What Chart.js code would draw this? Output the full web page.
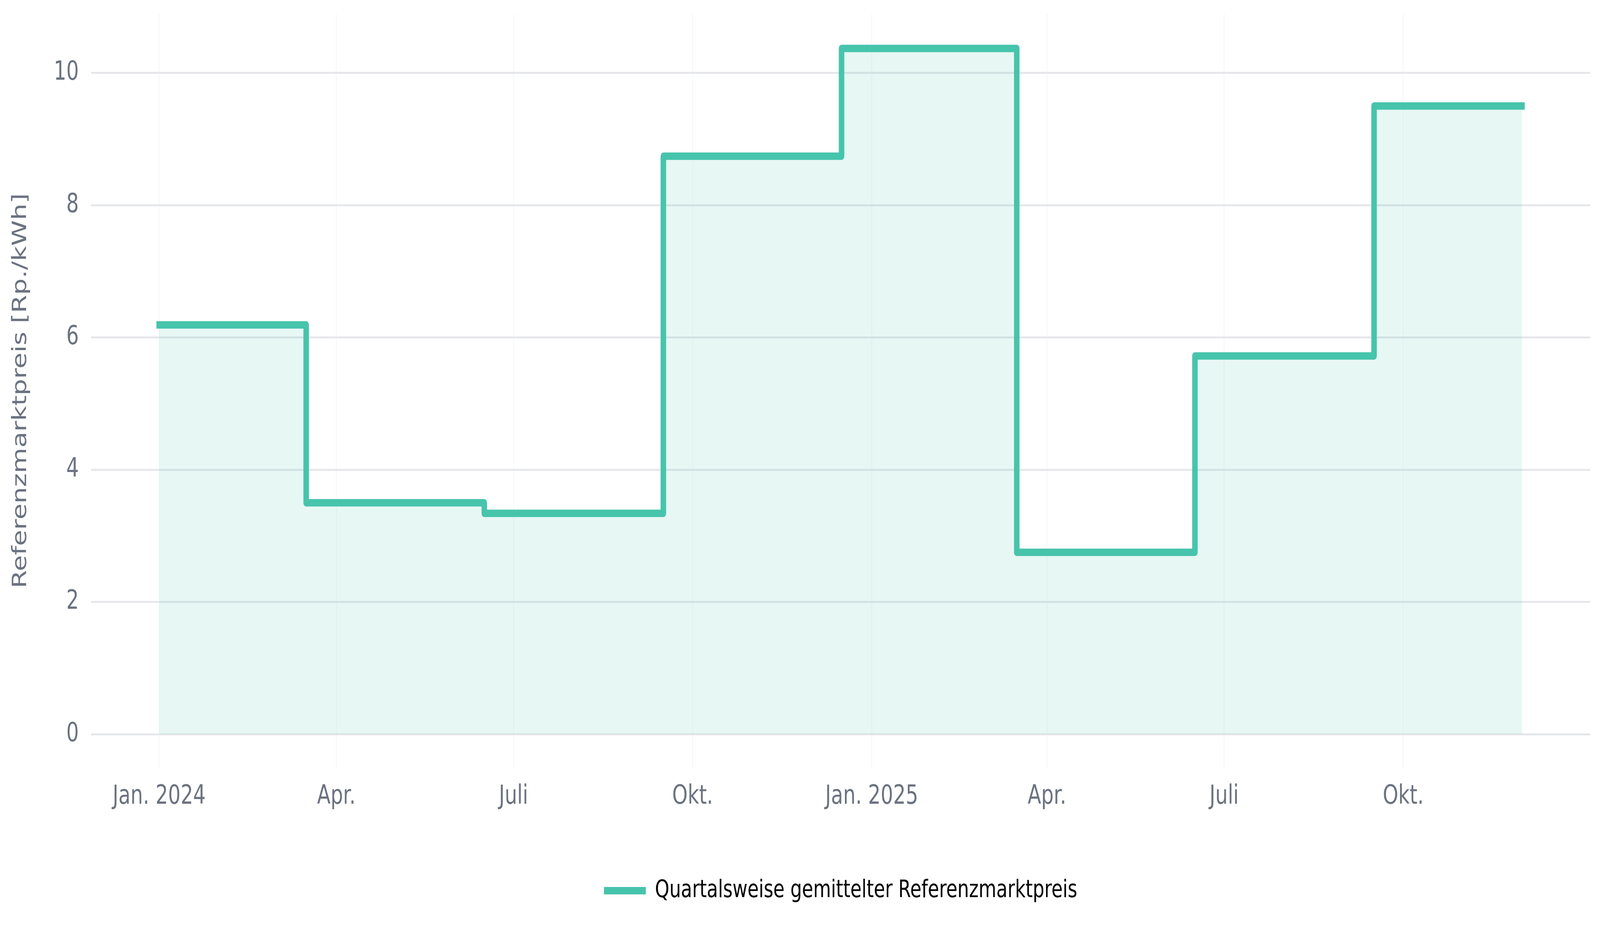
<!DOCTYPE html>
<html>
<head>
<meta charset="utf-8">
<script src="https://cdn.jsdelivr.net/npm/chart.js@4.4.1/dist/chart.umd.min.js"></script>
<style>
html,body{margin:0;padding:0;background:#ffffff;overflow:hidden;}
#c{display:block;}
</style>
</head>
<body>
<canvas id="c" width="5522" height="2375"></canvas>
<script>
// ---- data ----
const months = ['2024-01','2024-02','2024-03','2024-04','2024-05','2024-06','2024-07','2024-08','2024-09','2024-10','2024-11','2024-12',
                '2025-01','2025-02','2025-03','2025-04','2025-05','2025-06','2025-07','2025-08','2025-09','2025-10','2025-11','2025-12'];
const prices = [6.19,6.19,6.19, 3.50,3.50,3.50, 3.34,3.34,3.34, 8.74,8.74,8.74,
                10.37,10.37,10.37, 2.75,2.75,2.75, 5.72,5.72,5.72, 9.50,9.50,9.50];
const xTickDates = ['2024-01','2024-04','2024-07','2024-10','2025-01','2025-04','2025-07','2025-10'];
const xTickLabels = ['Jan. 2024','Apr.','Juli','Okt.','Jan. 2025','Apr.','Juli','Okt.'];
const yTicks = [0,2,4,6,8,10];
const seriesLabel = 'Quartalsweise gemittelter Referenzmarktpreis';
const yTitle = 'Referenzmarktpreis [Rp./kWh]';

// ---- canvas: drawn at 5522x2375, shown at the window's size ----
const canvas = document.getElementById('c');
canvas.style.width = (window.innerWidth || 5522) + 'px';
canvas.style.height = (window.innerHeight || 2375) + 'px';

function toDay(s){ const p = s.split('-'); return Date.UTC(+p[0], +p[1]-1, 1) / 86400000; }
const LINE = '#47c4ac';
const FILL = 'rgba(71,196,172,0.13)';
const FONT = 'DejaVu Sans';
const xMinPad = 35, xMaxPad = 35;

const points = months.map((m,i) => ({x: toDay(m), y: prices[i]}));

new Chart(canvas, {
  type: 'line',
  data: {
    datasets: [{
      label: seriesLabel,
      data: points,
      borderColor: LINE,
      backgroundColor: FILL,
      borderWidth: 19,
      fill: 'origin',
      stepped: 'middle',
      pointRadius: 0,
      pointHoverRadius: 0,
      borderCapStyle: 'square',
      borderJoinStyle: 'round'
    }]
  },
  options: {
    responsive: false,
    maintainAspectRatio: false,
    devicePixelRatio: 1,
    animation: false,
    events: [],
    layout: { padding: { left: 0, right: 34, top: 36, bottom: 54 } },
    scales: {
      x: {
        type: 'linear',
        min: toDay(months[0]) - xMinPad,
        max: toDay(months[months.length-1]) + xMaxPad,
        afterBuildTicks: (s) => { s.ticks = xTickDates.map(d => ({value: toDay(d)})); },
        afterFit: (s) => { s.height = 349; s.paddingLeft = 0; s.paddingRight = 0; },
        ticks: {
          autoSkip: false, maxRotation: 0, minRotation: 0,
          padding: 31,
          color: '#6b7280',
          font: { family: FONT, size: 68 },
          callback: (v, i) => xTickLabels[i]
        },
        grid: { color: 'rgba(229,231,235,0.35)', lineWidth: 3, tickLength: 89, tickColor: 'rgba(229,231,235,0.35)' },
        border: { display: false }
      },
      y: {
        min: 0,
        max: 10.89,
        afterBuildTicks: (s) => { s.ticks = yTicks.map(v => ({value: v})); },
        afterFit: (s) => { s.width = 314; s.paddingTop = 0; s.paddingBottom = 0; },
        ticks: {
          padding: 42,
          color: '#6b7280',
          font: { family: FONT, size: 68 },
          callback: (v) => String(v)
        },
        grid: { color: '#e5e7eb', lineWidth: 5, drawTicks: false },
        border: { display: false },
        title: {
          display: true,
          text: yTitle + '    ',
          color: '#6b7280',
          font: { family: FONT, size: 67 },
          padding: { top: 32, bottom: 0 }
        }
      }
    },
    plugins: {
      tooltip: { enabled: false },
      legend: {
        display: true,
        position: 'bottom',
        fullSize: false,
        labels: {
          color: '#000000',
          font: { family: FONT, size: 63 },
          boxWidth: 145,
          boxHeight: 19,
          padding: 20,
          generateLabels: () => [{
            text: seriesLabel,
            fillStyle: LINE,
            strokeStyle: LINE,
            lineWidth: 0,
            hidden: false,
            datasetIndex: 0
          }]
        }
      }
    }
  }
});
</script>
</body>
</html>
